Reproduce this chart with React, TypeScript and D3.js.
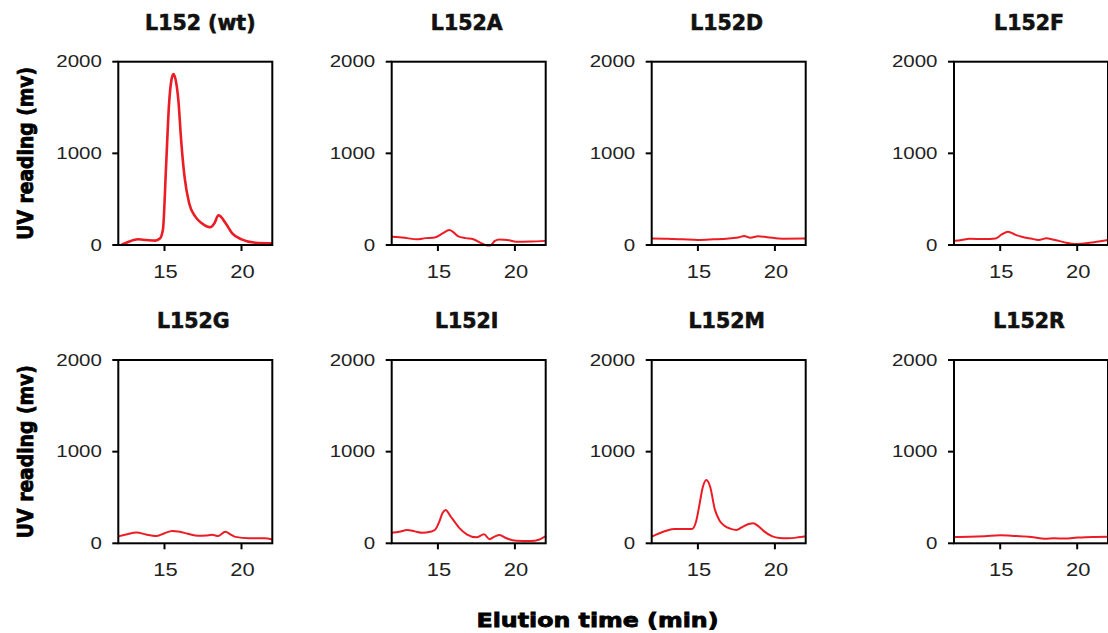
import React from "react";
import * as d3 from "d3";

// elution profiles (x = min, y = mV)
const titles = ["L152 (wt)", "L152A", "L152D", "L152F", "L152G", "L152I", "L152M", "L152R"];

const wtX = [12.2, 12.6, 13.0, 13.3, 13.8, 14.4, 14.7, 14.9, 15.1, 15.3, 15.45, 15.58, 15.75, 15.9, 16.08, 16.3, 16.6, 17.0, 17.4, 17.8, 18.0, 18.25, 18.5, 18.65, 19.0, 19.4, 20.0, 20.9, 22.0];
const wtY = [0, 30, 55, 62, 55, 48, 70, 170, 850, 1550, 1800, 1865, 1780, 1580, 1145, 745, 455, 310, 240, 200, 195, 240, 325, 310, 230, 127, 62, 25, 18];

const aX = [12, 12.5, 13.0, 13.6, 14.2, 14.8, 15.3, 15.75, 16.0, 16.3, 16.8, 17.3, 17.8, 18.2, 18.4, 18.7, 19.0, 19.5, 20.1, 21.0, 22];
const aY = [90, 85, 75, 62, 75, 82, 127, 163, 140, 98, 75, 62, 20, -5, -5, 45, 60, 55, 36, 38, 45];

const dX = [12, 13, 14, 15, 16, 17, 17.7, 18.0, 18.4, 18.9, 19.5, 20.5, 22];
const dY = [70, 68, 62, 55, 62, 72, 85, 98, 78, 95, 85, 68, 70];

const fX = [12, 12.5, 13.0, 14.0, 14.7, 15.1, 15.5, 16.0, 16.4, 17.0, 17.5, 18.0, 18.4, 18.8, 19.3, 19.8, 20.3, 21.0, 21.5, 22];
const fY = [45, 55, 68, 65, 72, 115, 145, 110, 90, 70, 55, 73, 60, 45, 25, 12, 15, 28, 40, 55];

const gX = [12, 12.5, 13.2, 13.8, 14.5, 15.0, 15.5, 16.0, 16.5, 17.2, 17.7, 18.1, 18.5, 18.95, 19.3, 19.6, 20.5, 21.5, 22];
const gY = [75, 95, 118, 95, 80, 110, 135, 125, 105, 82, 85, 92, 80, 126, 95, 70, 55, 55, 42];

const iX = [12, 12.5, 13.0, 13.5, 14.0, 14.5, 14.8, 15.1, 15.3, 15.5, 15.8, 16.1, 16.4, 16.9, 17.5, 18.0, 18.35, 18.7, 19.0, 19.45, 20.1, 21.0, 21.6, 22];
const iY = [115, 125, 145, 130, 115, 125, 145, 240, 330, 363, 300, 230, 165, 95, 65, 98, 45, 75, 90, 55, 28, 25, 42, 80];

const mX = [12, 12.5, 13.0, 13.5, 14.0, 14.6, 14.9, 15.1, 15.3, 15.55, 15.8, 16.1, 16.4, 16.7, 17.1, 17.5, 17.9, 18.3, 18.6, 18.9, 19.3, 19.8, 20.3, 20.8, 21.5, 22];
const mY = [72, 110, 140, 155, 155, 155, 250, 420, 600, 690, 615, 370, 250, 195, 160, 145, 180, 210, 218, 190, 130, 78, 58, 55, 65, 78];

const rX = [12, 13, 14, 15, 16, 17, 17.9, 18.5, 19.2, 20, 21, 22];
const rY = [70, 72, 78, 88, 80, 70, 50, 55, 52, 62, 70, 72];

const seriesX = [wtX, aX, dX, fX, gX, iX, mX, rX];
const seriesY = [wtY, aY, dY, fY, gY, iY, mY, rY];

const xTicks = [15, 20];
const yTicks = [0, 1000, 2000];

const colLeft = [118.3, 391.7, 651.7, 954];
const rowTop = [61.7, 360];
const pw = 154;
const ph = 183.3;
const red = "#ec1c24";

function Panel({ idx }: { idx: number }) {
  const left = colLeft[idx % 4];
  const top = rowTop[Math.floor(idx / 4)];
  const x = d3.scaleLinear().domain([12, 22]).range([0, pw]);
  const y = d3.scaleLinear().domain([0, 2000]).range([ph, 0]);
  const pts = seriesX[idx].map((v, i) => [v, seriesY[idx][i]] as [number, number]);
  const line = d3
    .line<[number, number]>()
    .x((d) => x(d[0]))
    .y((d) => y(d[1]))
    .curve(d3.curveMonotoneX);

  return (
    <g transform={`translate(${left},${top})`}>
      <text
        x={idx === 0 ? pw / 2 + 5 : pw / 2 - 2}
        y={-32}
        textAnchor="middle"
        fontFamily="DejaVu Sans"
        fontWeight="bold"
        fontSize={20.5}
        stroke="#111"
        strokeWidth={0.6}
        fill="#111"
      >
        {titles[idx]}
      </text>
      <path d={line(pts) || ""} fill="none" stroke={red} strokeWidth={idx === 0 ? 2.6 : 2} />
      <rect x={0} y={0} width={pw} height={ph} fill="none" stroke="#000" strokeWidth={2} />
      {yTicks.map((t) => (
        <g key={"y" + t}>
          <line x1={-6} x2={0} y1={y(t)} y2={y(t)} stroke="#000" strokeWidth={2} />
          <text
            transform={`translate(-16.5,${y(t)}) scale(1.28,1)`}
            dy="0.36em"
            textAnchor="end"
            fontFamily="Liberation Sans"
            fontSize={16}
            fill="#222"
          >
            {t}
          </text>
        </g>
      ))}
      {xTicks.map((t) => (
        <g key={"x" + t}>
          <line x1={x(t)} x2={x(t)} y1={ph} y2={ph + 6} stroke="#000" strokeWidth={2} />
          <text
            transform={`translate(${x(t) + 1},${ph + 33}) scale(1.22,1)`}
            textAnchor="middle"
            fontFamily="Liberation Sans"
            fontSize={18}
            fill="#222"
          >
            {t}
          </text>
        </g>
      ))}
    </g>
  );
}

export default function App() {
  return (
    <svg
      width={1108}
      height={633}
      style={{ position: "absolute", left: 0, top: 0, background: "#fff" }}
    >
      {titles.map((_, i) => (
        <Panel key={i} idx={i} />
      ))}
      {rowTop.map((t, r) => (
        <text
          key={"yl" + r}
          transform={`translate(33,${t + ph / 2}) rotate(-90)`}
          textAnchor="middle"
          fontFamily="DejaVu Sans"
          fontWeight="bold"
          fontSize={21}
          textLength={173}
          lengthAdjust="spacingAndGlyphs"
          stroke="#000"
          strokeWidth={0.8}
          fill="#000"
        >
          UV reading (mv)
        </text>
      ))}
      <text
        x={597.5}
        y={627}
        textAnchor="middle"
        fontFamily="DejaVu Sans"
        fontWeight="bold"
        fontSize={20}
        textLength={242}
        lengthAdjust="spacingAndGlyphs"
        stroke="#000"
        strokeWidth={0.8}
        fill="#000"
      >
        Elution time (min)
      </text>
    </svg>
  );
}
